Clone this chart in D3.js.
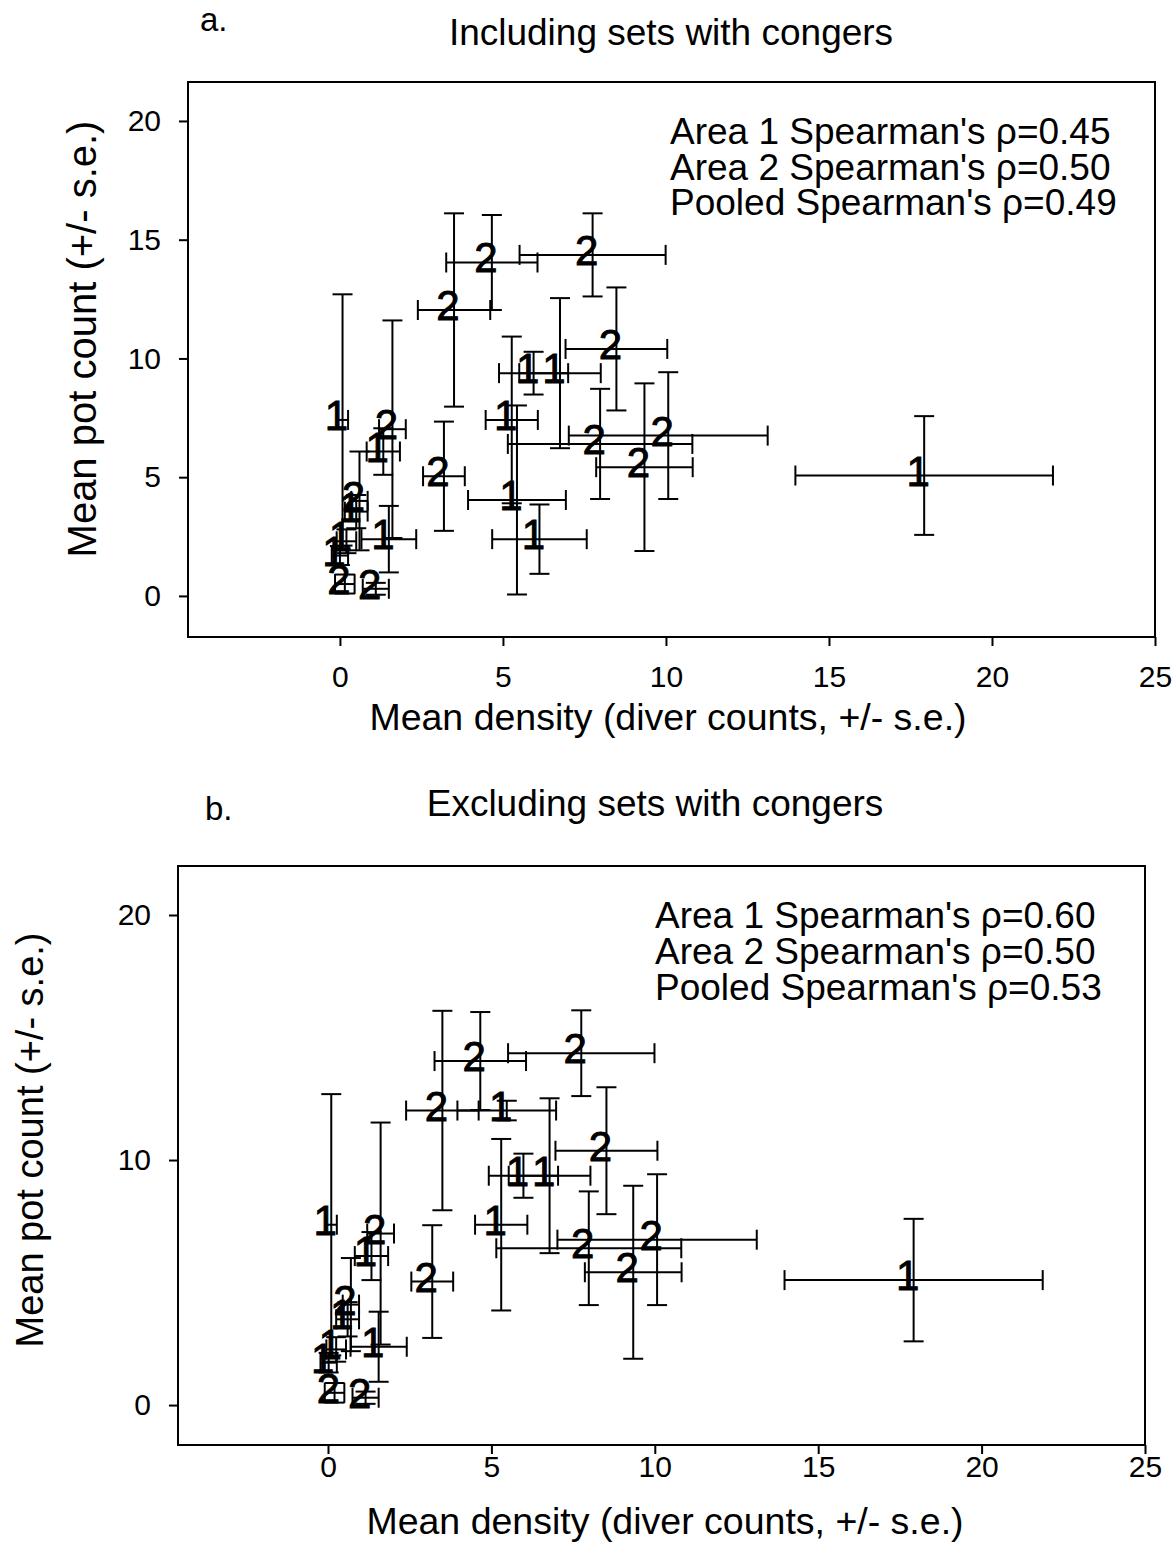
<!DOCTYPE html>
<html>
<head>
<meta charset="utf-8">
<script src="https://cdn.jsdelivr.net/npm/d3@7"></script>
<style>
  body { margin: 0; background: #fff; }
  svg { display: block; font-family: "Liberation Sans", Arial, sans-serif; }
</style>
</head>
<body>
<svg id="chart" width="1174" height="1543"></svg>
<script>
// panel a: including sets with congers
const areaA  = ['2', '2', '2', '1', '2', '1', '2', '1', '1', '1', '1', '1', '2', '2', '2', '2', '1', '2', '1', '1', '1', '1', '2', '2'];
const xMeanA = [4.66, 7.75, 3.50, 0.08, 1.61, 1.33, 3.19, 5.27, 5.43, 6.12, 5.94, 6.75, 8.48, 7.98, 10.07, 9.34, 17.92, 0.60, 0.50, 1.50, 0.20, 0.00, 0.15, 1.10];
const xSeA   = [1.40, 2.24, 1.11, 0.17, 0.41, 0.51, 0.64, 0.80, 1.50, 1.45, 1.06, 1.25, 1.56, 2.83, 3.05, 1.48, 3.95, 0.25, 0.35, 0.84, 0.30, 0.25, 0.30, 0.40];
const yMeanA = [14.04, 14.36, 12.04, 7.41, 7.02, 6.08, 5.04, 7.41, 4.04, 2.39, 9.38, 9.38, 10.40, 6.40, 6.75, 5.42, 5.07, 4.00, 3.55, 2.39, 2.30, 1.70, 0.50, 0.30];
const ySeA   = [2.00, 1.75, 4.07, 5.29, 4.58, 0.98, 2.30, 3.51, 3.98, 1.46, 0.90, 3.16, 2.59, 2.32, 2.67, 3.53, 2.50, 2.08, 0.70, 1.40, 0.50, 0.40, 0.40, 0.25];

// panel b: excluding sets with congers
const areaB  = ['2', '2', '2', '1', '2', '1', '2', '1', '1', '1', '1', '2', '2', '2', '2', '1', '2', '1', '1', '1', '1', '2', '2'];
const xMeanB = [4.66, 7.75, 3.50, 0.10, 1.61, 1.33, 3.19, 5.30, 5.47, 5.98, 6.78, 8.52, 7.98, 10.07, 9.34, 17.92, 0.70, 0.60, 1.55, 0.25, 0.02, 0.20, 1.15];
const xSeB   = [1.40, 2.24, 1.11, 0.17, 0.41, 0.51, 0.64, 0.80, 1.51, 1.06, 1.25, 1.56, 2.83, 3.05, 1.48, 3.95, 0.25, 0.35, 0.86, 0.30, 0.25, 0.30, 0.40];
const yMeanB = [14.04, 14.36, 12.02, 7.36, 7.00, 6.08, 5.04, 7.36, 12.02, 9.36, 9.36, 10.38, 6.40, 6.75, 5.42, 5.10, 4.10, 3.50, 2.38, 2.27, 1.73, 0.50, 0.30];
const ySeB   = [2.00, 1.75, 4.07, 5.33, 4.53, 0.98, 2.30, 3.50, 0.40, 0.90, 3.16, 2.59, 2.32, 2.67, 3.53, 2.50, 1.90, 0.70, 1.43, 0.50, 0.40, 0.40, 0.25];

const xTicksA = [0, 5, 10, 15, 20, 25];
const yTicksA = [0, 5, 10, 15, 20];
const xTicksB = [0, 5, 10, 15, 20, 25];
const yTicksB = [0, 10, 20];

const notesA = ["Area 1 Spearman's \u03c1=0.45", "Area 2 Spearman's \u03c1=0.50", "Pooled Spearman's \u03c1=0.49"];
const notesB = ["Area 1 Spearman's \u03c1=0.60", "Area 2 Spearman's \u03c1=0.50", "Pooled Spearman's \u03c1=0.53"];

const svg = d3.select('#chart');

function toRows(area, xm, xs, ym, ys) {
    return area.map((a, i) => ({ area: a, x: xm[i], xse: xs[i], y: ym[i], yse: ys[i] }));
}

function drawPanel(cfg, rows) {
    const g = svg.append('g');

    const xscale = d3.scaleLinear().domain(cfg.xdomain).range([cfg.left, cfg.right]);
    const yscale = d3.scaleLinear().domain(cfg.ydomain).range([cfg.bottom, cfg.top]);

    const xaxis = d3.axisBottom(xscale).tickValues(cfg.xticks).tickSize(9).tickSizeOuter(0).tickPadding(cfg.xpad);
    const yaxis = d3.axisLeft(yscale).tickValues(cfg.yticks).tickSize(9).tickSizeOuter(0).tickPadding(cfg.ypad);

    g.append('g')
        .attr('transform', `translate(0, ${cfg.bottom})`)
        .call(xaxis)
        .call(a => a.select('.domain').remove())
        .call(a => a.selectAll('line').attr('stroke-width', 2))
        .call(a => a.selectAll('text').attr('font-size', 30).attr('fill', '#000'));

    g.append('g')
        .attr('transform', `translate(${cfg.left}, 0)`)
        .call(yaxis)
        .call(a => a.select('.domain').remove())
        .call(a => a.selectAll('line').attr('stroke-width', 2))
        .call(a => a.selectAll('text').attr('font-size', 30).attr('fill', '#000'));

    g.append('rect')
        .attr('x', cfg.left).attr('y', cfg.top)
        .attr('width', cfg.right - cfg.left).attr('height', cfg.bottom - cfg.top)
        .attr('fill', 'none').attr('stroke', '#000').attr('stroke-width', 2);

    const cap = 10;
    const bars = g.append('g').attr('stroke', '#000').attr('stroke-width', 2);
    rows.forEach(d => {
        const cx = xscale(d.x), cy = yscale(d.y);
        const x0 = xscale(d.x - d.xse), x1 = xscale(d.x + d.xse);
        const y0 = yscale(d.y - d.yse), y1 = yscale(d.y + d.yse);
        bars.append('line').attr('x1', x0).attr('x2', x1).attr('y1', cy).attr('y2', cy);
        bars.append('line').attr('x1', x0).attr('x2', x0).attr('y1', cy - cap).attr('y2', cy + cap);
        bars.append('line').attr('x1', x1).attr('x2', x1).attr('y1', cy - cap).attr('y2', cy + cap);
        bars.append('line').attr('x1', cx).attr('x2', cx).attr('y1', y0).attr('y2', y1);
        bars.append('line').attr('x1', cx - cap).attr('x2', cx + cap).attr('y1', y0).attr('y2', y0);
        bars.append('line').attr('x1', cx - cap).attr('x2', cx + cap).attr('y1', y1).attr('y2', y1);
    });

    g.selectAll('.lab')
        .data(rows)
        .enter()
        .append('text')
        .attr('x', d => xscale(d.x) - 6)
        .attr('y', d => yscale(d.y) + 10)
        .attr('text-anchor', 'middle')
        .attr('font-size', 42)
        .attr('stroke', '#000')
        .attr('stroke-width', 0.9)
        .text(d => d.area);

    g.append('text')
        .attr('x', cfg.letterX).attr('y', cfg.letterY)
        .attr('font-size', 33)
        .text(cfg.letter);

    g.append('text')
        .attr('x', cfg.titleX).attr('y', cfg.titleY)
        .attr('text-anchor', 'middle')
        .attr('font-size', 37)
        .text(cfg.title);

    g.selectAll('.note')
        .data(cfg.notes)
        .enter()
        .append('text')
        .attr('x', cfg.noteX)
        .attr('y', (d, i) => cfg.noteY + i * cfg.noteStep)
        .attr('font-size', 37)
        .text(d => d);

    g.append('text')
        .attr('x', cfg.xlabelX).attr('y', cfg.xlabelY)
        .attr('text-anchor', 'middle')
        .attr('font-size', 37.5)
        .text('Mean density (diver counts, +/- s.e.)');

    g.append('text')
        .attr('transform', `translate(${cfg.ylabelX}, ${cfg.ylabelY}) rotate(-90)`)
        .attr('text-anchor', 'middle')
        .attr('font-size', cfg.ylabelSize)
        .text('Mean pot count (+/- s.e.)');
}

drawPanel({
    left: 188, right: 1155, top: 82, bottom: 637,
    xdomain: [-4.66, 25], ydomain: [-1.73, 21.64],
    xticks: xTicksA, yticks: yTicksA, xpad: 20, ypad: 18,
    letter: 'a.', letterX: 200, letterY: 31,
    title: 'Including sets with congers', titleX: 671, titleY: 45,
    notes: notesA, noteX: 670, noteY: 144, noteStep: 35.5,
    xlabelX: 668, xlabelY: 730, ylabelX: 96, ylabelY: 339, ylabelSize: 40
}, toRows(areaA, xMeanA, xSeA, yMeanA, ySeA));

drawPanel({
    left: 178, right: 1145, top: 866, bottom: 1445,
    xdomain: [-4.59, 25], ydomain: [-1.63, 22.0],
    xticks: xTicksB, yticks: yTicksB, xpad: 2, ypad: 18,
    letter: 'b.', letterX: 205, letterY: 820,
    title: 'Excluding sets with congers', titleX: 655, titleY: 816,
    notes: notesB, noteX: 655, noteY: 928, noteStep: 36,
    xlabelX: 665, xlabelY: 1534, ylabelX: 43, ylabelY: 1140, ylabelSize: 38
}, toRows(areaB, xMeanB, xSeB, yMeanB, ySeB));
</script>
</body>
</html>
